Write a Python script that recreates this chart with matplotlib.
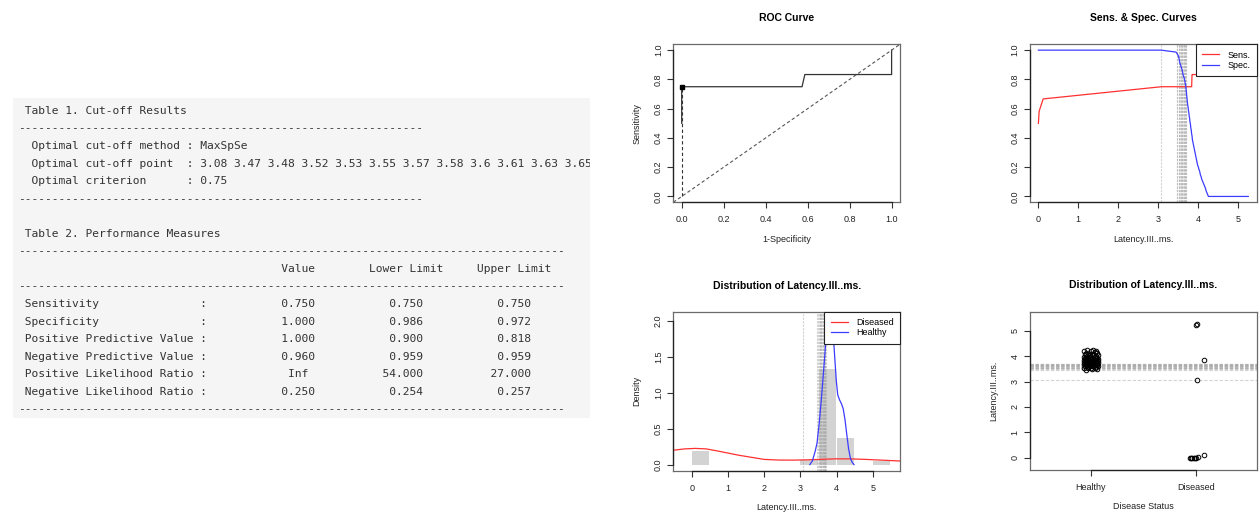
import matplotlib
matplotlib.use('Agg')
import matplotlib.pyplot as plt
from matplotlib.lines import Line2D
import numpy as np

plt.rcParams['font.family'] = ['Liberation Sans', 'DejaVu Sans']

W, H = 1260, 512

# ---- data ----
method = 'MaxSpSe'
cutoffs = [3.08, 3.47, 3.48, 3.52, 3.53, 3.55, 3.57, 3.58, 3.6, 3.61, 3.63, 3.65,
           3.66, 3.67, 3.68, 3.69, 3.7]
criterion = 0.75

measures = ['Sensitivity', 'Specificity', 'Positive Predictive Value',
            'Negative Predictive Value', 'Positive Likelihood Ratio',
            'Negative Likelihood Ratio']
values = ['0.750', '1.000', '1.000', '0.960', 'Inf', '0.250']
lower = ['0.750', '0.986', '0.900', '0.959', '54.000', '0.254']
upper = ['0.750', '0.972', '0.818', '0.959', '27.000', '0.257']
opt_sens, opt_spec = 0.75, 1.0

healthy = [3.45, 3.48,
           3.51, 3.52, 3.53, 3.55, 3.55,
           3.57, 3.58, 3.60, 3.61, 3.62, 3.63,
           3.65, 3.66, 3.67, 3.68, 3.69,
           3.70, 3.70, 3.71, 3.71, 3.72, 3.72, 3.73, 3.73, 3.74, 3.74,
           3.75, 3.76, 3.76, 3.77, 3.78, 3.78, 3.79, 3.80, 3.80,
           3.81, 3.82, 3.82, 3.83, 3.84, 3.84, 3.85, 3.86, 3.86,
           3.87, 3.88, 3.89, 3.90, 3.91, 3.92, 3.93, 3.94,
           3.95, 3.96, 3.97, 3.98, 3.99,
           4.01, 4.02, 4.04, 4.05, 4.06, 4.08, 4.09,
           4.11, 4.13, 4.15,
           4.17, 4.19, 4.20, 4.22, 4.24, 4.26]
diseased = [0, 0, 0, 0, 0, 0, 0.02, 0.12, 3.08, 3.85, 5.25, 5.26]

# kernel density curves
dens_h_x = [3.26, 3.33, 3.40, 3.46, 3.52, 3.58, 3.64, 3.70, 3.75, 3.80, 3.85, 3.89,
            3.94, 3.99, 4.03, 4.08, 4.13, 4.18, 4.23, 4.28, 4.33, 4.38, 4.43, 4.48]
dens_h_y = [0.0, 0.05, 0.17, 0.30, 0.58, 0.92, 1.30, 1.70, 2.02, 2.25, 2.20, 1.95,
            1.55, 1.17, 0.97, 0.90, 0.85, 0.78, 0.63, 0.42, 0.22, 0.09, 0.03, 0.0]
dens_d_x = [-0.8, -0.5, -0.2, 0.1, 0.4, 0.7, 1.0, 1.3, 1.6, 2.0, 2.4, 2.8, 3.2,
            3.6, 4.0, 4.4, 4.8, 5.2, 5.6, 6.0]
dens_d_y = [0.17, 0.20, 0.218, 0.225, 0.218, 0.19, 0.16, 0.13, 0.105, 0.072, 0.063,
            0.062, 0.066, 0.074, 0.080, 0.079, 0.072, 0.063, 0.053, 0.045]

# jitter used by the strip chart
jit_h = [-0.05, 0.015, 0.055, -0.025, 0.035, -0.065, 0.0, 0.05, -0.04, 0.025, -0.01,
         0.065, -0.055]
jit_d = [-0.06, -0.045, -0.035, -0.02, -0.005, 0.005, 0.02, 0.08, 0.01, 0.075, 0.0, 0.012]

RED = '#ff3030'
BLUE = '#3c3cff'
CUT = '#a8a8a8'

hv = np.array(healthy)
dv = np.array(diseased)
thr = np.unique(np.concatenate([hv, dv]))
sens = np.array([(dv <= t).mean() for t in thr])
spec = np.array([(hv > t).mean() for t in thr])

fig = plt.figure(figsize=(W / 100, H / 100), dpi=100)


def fx(x):
    return x / W


def fy(y):
    return 1 - y / H


# ---- left: console text panel ----
tax = fig.add_axes([fx(13), fy(418), (590 - 13) / W, (418 - 98) / H])
tax.set_facecolor('#f5f5f5')
tax.set_xlim(13, 590)
tax.set_ylim(418, 98)
tax.set_xticks([])
tax.set_yticks([])
for s in tax.spines.values():
    s.set_visible(False)

rule1 = '-' * 60
rule2 = '-' * 81
rows = [f' {m:<26}:' + ' ' * 11 + f'{v:^5}' + f'{lo:>16}' + f'{up:>16}'
        for m, v, lo, up in zip(measures, values, lower, upper)]
cut_line = '  Optimal cut-off point  : ' + ' '.join(f'{c:g}' for c in cutoffs)
lines = [' Table 1. Cut-off Results',
         rule1,
         '  Optimal cut-off method : ' + method,
         cut_line[:86],   # the console output is cut at the panel edge
         '  Optimal criterion      : ' + f'{criterion:g}',
         rule1,
         '',
         ' Table 2. Performance Measures',
         rule2,
         ' ' * 39 + 'Value' + ' ' * 8 + 'Lower Limit' + ' ' * 5 + 'Upper Limit',
         rule2] + rows + [rule2]
for i, ln in enumerate(lines):
    tax.text(18.5, 111 + i * 17.55, ln, family='DejaVu Sans Mono', fontsize=8.14,
             color='#333333', ha='left', va='center', clip_on=True)

FS = 6.5


# ---- right: four R-style panels ----
def panel(l, t, r, b):
    ax = fig.add_axes([fx(l), fy(b), (r - l) / W, (b - t) / H])
    for s in ax.spines.values():
        s.set_color('#6a6a6a')
        s.set_linewidth(0.9)
    ax.tick_params(direction='out', length=4.3, width=0.8, color='#333333',
                   labelsize=FS, labelcolor='#222222')
    ax.tick_params(axis='x', pad=5.0)
    ax.tick_params(axis='y', pad=3.2)
    return ax


def finish(ax, xt, yt, xl, yl, xlabels=None, ylabels=None):
    ax.set_xticks(xt, xlabels if xlabels else None)
    ax.set_yticks(yt, ylabels if ylabels else None)
    plt.setp(ax.get_yticklabels(), rotation=90, va='center')
    ax.plot([xt[0], xt[-1]], [0, 0], transform=ax.get_xaxis_transform(),
            color='#222222', lw=0.9, clip_on=False, zorder=6)
    ax.plot([0, 0], [yt[0], yt[-1]], transform=ax.get_yaxis_transform(),
            color='#222222', lw=0.9, clip_on=False, zorder=6)
    ax.set_xlim(*xl)
    ax.set_ylim(*yl)


def title(x, y, s):
    fig.text(fx(x), fy(y), s, ha='center', va='center', fontsize=7.5, fontweight='bold')


def xlab(x, y, s):
    fig.text(fx(x), fy(y), s, ha='center', va='center', fontsize=FS, color='#222222')


def ylab(x, y, s):
    fig.text(fx(x), fy(y), s, ha='center', va='center', rotation=90, fontsize=FS,
             color='#222222')


def legend(ax, labels, colors):
    handles = [Line2D([], [], color=c, lw=0.9) for c in colors]
    leg = ax.legend(handles, labels, loc='upper right', borderaxespad=0, fontsize=FS,
                    frameon=True, fancybox=False, framealpha=1, edgecolor='#222222',
                    handlelength=1.9, handletextpad=0.9, borderpad=0.7,
                    labelspacing=0.15)
    leg.get_frame().set_linewidth(0.8)
    leg.set_zorder(10)


# ROC curve
ax1 = panel(673.3, 44.3, 900, 202.3)
ax1.plot(1 - spec, sens, color='#333333', lw=0.9)
ax1.axline((0, 0), (1, 1), color='#555555', lw=0.8, dashes=(3, 2.2))
ax1.plot([1 - opt_spec, 1 - opt_spec], [0, opt_sens], color='#333333', lw=0.8,
         dashes=(3, 2.2))
ax1.plot([1 - opt_spec], [opt_sens], 's', color='black', ms=2.8)
ticks01 = [0, 0.2, 0.4, 0.6, 0.8, 1.0]
lab01 = ['0.0', '0.2', '0.4', '0.6', '0.8', '1.0']
finish(ax1, ticks01, ticks01, (-0.04, 1.04), (-0.04, 1.04), lab01, lab01)
title(786.7, 18.3, 'ROC Curve')
xlab(786.7, 240, '1-Specificity')
ylab(637, 123.3, 'Sensitivity')

# Sens. & Spec. curves
ax2 = panel(1030, 44.3, 1256.7, 202.3)
for c in cutoffs:
    ax2.axvline(c, color=CUT, alpha=0.5, lw=0.8, dashes=(2.0, 1.1), zorder=1)
ax2.plot(thr, sens, color=RED, lw=0.9, zorder=3)
ax2.plot(thr, spec, color=BLUE, lw=0.9, zorder=3)
legend(ax2, ['Sens.', 'Spec.'], [RED, BLUE])
finish(ax2, [0, 1, 2, 3, 4, 5], ticks01, (-0.21, 5.47), (-0.04, 1.04),
       ['0', '1', '2', '3', '4', '5'], lab01)
title(1143.3, 18.3, 'Sens. & Spec. Curves')
xlab(1143.3, 240, 'Latency.III..ms.')

# Density / histogram
ax3 = panel(673.3, 311.7, 900, 470.7)
heights, edges = np.histogram(np.concatenate([hv, dv]), bins=np.arange(0, 5.51, 0.5),
                              density=True)
ax3.bar(edges[:-1], heights, width=0.48, align='edge', color='#d3d3d3',
        edgecolor='none', zorder=1)
for c in cutoffs:
    ax3.axvline(c, color=CUT, alpha=0.5, lw=0.8, dashes=(2.0, 1.1), zorder=2)
ax3.plot(dens_d_x, dens_d_y, color=RED, lw=0.9, zorder=3)
ax3.plot(dens_h_x, dens_h_y, color=BLUE, lw=0.9, zorder=3)
legend(ax3, ['Diseased', 'Healthy'], [RED, BLUE])
finish(ax3, [0, 1, 2, 3, 4, 5], [0, 0.5, 1.0, 1.5, 2.0], (-0.51, 5.75), (-0.085, 2.125),
       ['0', '1', '2', '3', '4', '5'], ['0.0', '0.5', '1.0', '1.5', '2.0'])
title(786.7, 286, 'Distribution of Latency.III..ms.')
xlab(786.7, 507, 'Latency.III..ms.')
ylab(636.7, 391.2, 'Density')

# Strip chart
ax4 = panel(1030, 311.7, 1256.7, 470)
for c in cutoffs:
    ax4.axhline(c, color=CUT, alpha=0.5, lw=0.8, dashes=(3.0, 1.6), zorder=1)
xh = 1 + np.resize(jit_h, len(healthy))
xd = 2 + np.array(jit_d)
ax4.plot(xh, hv, 'o', mfc='none', mec='black', ms=3.3, mew=0.7, zorder=3)
ax4.plot(xd, dv, 'o', mfc='none', mec='black', ms=3.3, mew=0.7, zorder=3)
finish(ax4, [1, 2], [0, 1, 2, 3, 4, 5], (0.42, 2.58), (-0.486, 5.76),
       ['Healthy', 'Diseased'], ['0', '1', '2', '3', '4', '5'])
title(1143.3, 285, 'Distribution of Latency.III..ms.')
xlab(1143.3, 506.7, 'Disease Status')
ylab(993.3, 390.9, 'Latency.III..ms.')

fig.savefig('out.png', dpi=100)
